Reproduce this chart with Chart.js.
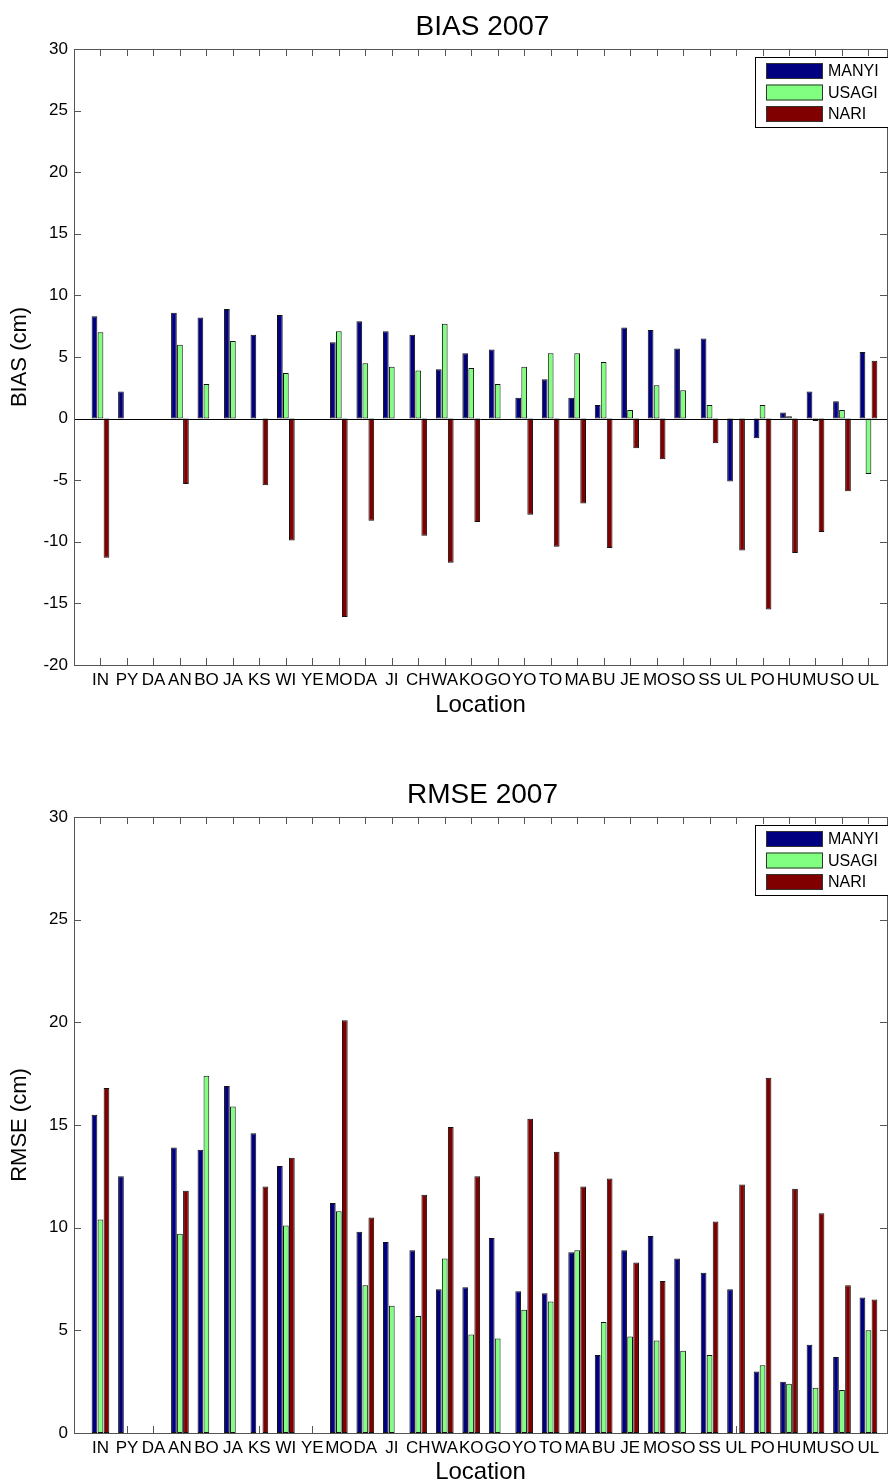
<!DOCTYPE html>
<html>
<head>
<meta charset="utf-8">
<title>BIAS / RMSE 2007</title>
<script src="https://cdn.jsdelivr.net/npm/chart.js@4.4.1/dist/chart.umd.min.js"></script>
<style>
  html, body { margin: 0; padding: 0; background: #fff; }
  canvas { display: block; }
</style>
</head>
<body>
<canvas id="biasChart" width="888" height="742"></canvas>
<canvas id="rmseChart" width="888" height="742"></canvas>
<script>
const locations = ['IN', 'PY', 'DA', 'AN', 'BO', 'JA', 'KS', 'WI', 'YE', 'MO', 'DA', 'JI', 'CH', 'WA', 'KO',
                   'GO', 'YO', 'TO', 'MA', 'BU', 'JE', 'MO', 'SO', 'SS', 'UL', 'PO', 'HU', 'MU', 'SO', 'UL'];
const seriesNames = ['MANYI', 'USAGI', 'NARI'];
const seriesColors = ['#000080', '#80ff80', '#800000'];

const biasManyi = [8.3, 2.2, null, 8.6, 8.2, 8.9, 6.8, 8.4, null, 6.2, 7.9, 7.1, 6.8, 4.0, 5.3,
                   5.6, 1.7, 3.2, 1.7, 1.1, 7.4, 7.2, 5.7, 6.5, -5.1, -1.6, 0.5, 2.2, 1.4, 5.4];
const biasUsagi = [7.0, null, null, 6.0, 2.8, 6.3, null, 3.7, null, 7.1, 4.5, 4.2, 3.9, 7.7, 4.1,
                   2.8, 4.2, 5.3, 5.3, 4.6, 0.7, 2.7, 2.3, 1.1, null, 1.1, 0.2, -0.2, 0.7, -4.5];
const biasNari = [-11.3, null, null, -5.3, null, null, -5.4, -9.9, null, -16.1, -8.3, null, -9.5, -11.7, -8.4,
                  null, -7.8, -10.4, -6.9, -10.5, -2.4, -3.3, null, -2.0, -10.7, -15.5, -10.9, -9.2, -5.9, 4.7];

const rmseManyi = [15.5, 12.5, null, 13.9, 13.8, 16.9, 14.6, 13.0, null, 11.2, 9.8, 9.3, 8.9, 7.0, 7.1,
                   9.5, 6.9, 6.8, 8.8, 3.8, 8.9, 9.6, 8.5, 7.8, 7.0, 3.0, 2.5, 4.3, 3.7, 6.6];
const rmseUsagi = [10.4, null, null, 9.7, 17.4, 15.9, null, 10.1, null, 10.8, 7.2, 6.2, 5.7, 8.5, 4.8,
                   4.6, 6.0, 6.4, 8.9, 5.4, 4.7, 4.5, 4.0, 3.8, null, 3.3, 2.4, 2.2, 2.1, 5.0];
const rmseNari = [16.8, null, null, 11.8, null, null, 12.0, 13.4, null, 20.1, 10.5, null, 11.6, 14.9, 12.5,
                  null, 15.3, 13.7, 12.0, 12.4, 8.3, 7.4, null, 10.3, 12.1, 17.3, 11.9, 10.7, 7.2, 6.5];

const biasTicks = [-20, -15, -10, -5, 0, 5, 10, 15, 20, 25, 30];
const rmseTicks = [0, 5, 10, 15, 20, 25, 30];

const FONT = '"Liberation Sans", Arial, Helvetica, sans-serif';

// matlab look: boxed axes, inward ticks, bar baseline, title and legend box
const matlabAxes = {
  id: 'matlabAxes',
  beforeDatasetsDraw(chart) {
    const { ctx, chartArea: a, scales: { x, y } } = chart;
    ctx.save();
    ctx.strokeStyle = '#555';
    ctx.lineWidth = 1;
    ctx.beginPath();
    x.ticks.forEach(t => {
      const px = Math.round(x.getPixelForValue(t.value)) + 0.5;
      ctx.moveTo(px, a.bottom); ctx.lineTo(px, a.bottom - 7);
      ctx.moveTo(px, a.top); ctx.lineTo(px, a.top + 7);
    });
    y.ticks.forEach(t => {
      const py = Math.round(y.getPixelForValue(t.value)) + 0.5;
      ctx.moveTo(a.left, py); ctx.lineTo(a.left + 7, py);
      ctx.moveTo(a.right, py); ctx.lineTo(a.right - 7, py);
    });
    ctx.stroke();
    ctx.restore();
  },
  afterDatasetsDraw(chart, args, opts) {
    const { ctx, chartArea: a, scales: { y } } = chart;
    ctx.save();
    if (y.min < 0) {
      const py = Math.round(y.getPixelForValue(0)) + 0.5;
      ctx.strokeStyle = '#000';
      ctx.beginPath(); ctx.moveTo(a.left, py); ctx.lineTo(a.right, py); ctx.stroke();
    }
    ctx.strokeStyle = '#555';
    ctx.strokeRect(a.left + 0.5, a.top + 0.5, a.right - a.left, a.bottom - a.top);

    ctx.fillStyle = '#000';
    ctx.font = '28px ' + FONT;
    ctx.textAlign = 'center';
    ctx.textBaseline = 'alphabetic';
    ctx.fillText(opts.title, (a.left + a.right) / 2 + 2, a.top - 14);

    const bx = a.right - 132, by = a.top + 8;
    ctx.fillStyle = '#fff';
    ctx.fillRect(bx, by, 150, 70);
    ctx.strokeStyle = '#000';
    ctx.strokeRect(bx + 0.5, by + 0.5, 150, 70);
    ctx.font = '16px ' + FONT;
    ctx.textAlign = 'left';
    ctx.textBaseline = 'middle';
    chart.data.datasets.forEach((ds, i) => {
      const sy = by + 6 + i * 21.5;
      ctx.fillStyle = ds.backgroundColor;
      ctx.fillRect(bx + 11, sy, 57, 16);
      ctx.strokeStyle = '#333';
      ctx.strokeRect(bx + 11.5, sy + 0.5, 56, 15);
      ctx.fillStyle = '#000';
      ctx.fillText(ds.label, bx + 73, sy + 9);
    });
    ctx.restore();
  }
};

function buildChart(canvasId, cfg) {
  const datasets = seriesNames.map((name, k) => ({
    label: name,
    data: cfg.series[k].map((v, i) => ({ x: i + 1, y: v })),
    backgroundColor: seriesColors[k],
    borderColor: '#111',
    borderWidth: 1,
    borderSkipped: false,
    categoryPercentage: 0.68,
    barPercentage: 0.95
  }));

  return new Chart(document.getElementById(canvasId), {
    type: 'bar',
    data: { datasets: datasets },
    options: {
      responsive: false,
      animation: false,
      layout: { padding: { top: cfg.top, right: 1, left: 0, bottom: 0 } },
      scales: {
        x: {
          type: 'linear',
          min: 0,
          max: 30.7,
          offset: false,
          grid: { display: false, drawTicks: false },
          border: { display: false },
          afterBuildTicks: s => { s.ticks = locations.map((_, i) => ({ value: i + 1 })); },
          afterFit: s => { s.height = cfg.xHeight; },
          ticks: {
            autoSkip: false,
            maxRotation: 0,
            padding: 5,
            color: '#000',
            font: { size: 17, family: FONT },
            callback: v => locations[v - 1]
          },
          title: {
            display: true,
            text: 'Location',
            color: '#000',
            font: { size: 24, family: FONT, lineHeight: 1 },
            padding: { top: 0, bottom: cfg.locPad }
          }
        },
        y: {
          min: cfg.ticks[0],
          max: cfg.ticks[cfg.ticks.length - 1],
          grid: { display: false, drawTicks: false },
          border: { display: false },
          afterBuildTicks: s => { s.ticks = cfg.ticks.map(v => ({ value: v })); },
          afterFit: s => { s.width = 74; },
          ticks: { padding: 6, color: '#000', font: { size: 17, family: FONT } },
          title: {
            display: true,
            text: cfg.yLabel,
            color: '#000',
            font: { size: 22, family: FONT, lineHeight: 1 },
            padding: { top: 9, bottom: 0 }
          }
        }
      },
      plugins: {
        legend: { display: false },
        tooltip: { enabled: false },
        matlabAxes: { title: cfg.title }
      }
    },
    plugins: [matlabAxes]
  });
}

buildChart('biasChart', {
  title: 'BIAS 2007',
  yLabel: 'BIAS (cm)',
  series: [biasManyi, biasUsagi, biasNari],
  ticks: biasTicks,
  top: 49,
  xHeight: 77,
  locPad: 25
});

buildChart('rmseChart', {
  title: 'RMSE 2007',
  yLabel: 'RMSE (cm)',
  series: [rmseManyi, rmseUsagi, rmseNari],
  ticks: rmseTicks,
  top: 75,
  xHeight: 51,
  locPad: 0
});
</script>
</body>
</html>
